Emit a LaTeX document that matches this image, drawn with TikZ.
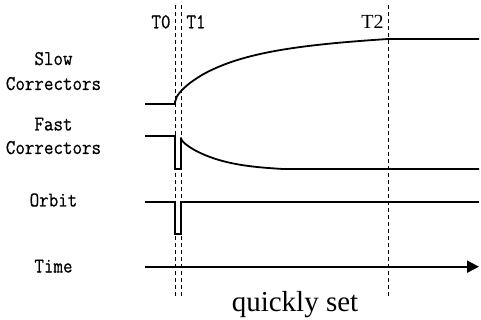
\documentclass[tikz,border=0pt]{standalone}
\usepackage{fontspec}
\setmainfont{Liberation Serif}
\newfontfamily\lblfont[FakeStretch=0.88,FakeBold=0.6]{Latin Modern Mono}
\usetikzlibrary{arrows.meta}
\begin{document}
\begin{tikzpicture}[x=1pt,y=-1pt,
  sig/.style={line width=1.8pt, line join=miter},
  guide/.style={line width=0.9pt, dash pattern=on 4pt off 3pt},
  lbl/.style={font=\lblfont\fontsize{21}{21}\selectfont, inner sep=0pt, anchor=base},
  serifl/.style={font=\fontsize{20}{20}\selectfont, inner sep=0pt, anchor=base}]
\useasboundingbox (0,0) rectangle (481,320);
% labels
\node[lbl] (slow1) at (53.5,65) {Slow};
\node[lbl] (slow2) at (53.5,90) {Correctors};
\node[lbl] (fast1) at (53.5,130.5) {Fast};
\node[lbl] (fast2) at (53.5,154) {Correctors};
\node[lbl] (orbit) at (53.5,206.5) {Orbit};
\node[lbl] (time) at (53.5,272.5) {Time};
\node[lbl] (t0) at (161,28.3) {T0};
\node[lbl] (t1) at (196,28.3) {T1};
\node[serifl] (t2) at (372.5,28.3) {T2};
\node[font=\fontsize{29}{29}\selectfont, inner sep=0pt, anchor=base] (qs) at (295,311.5) {quickly set};
% guide coordinates
\coordinate (g0a) at (175,5);   \coordinate (g0b) at (175,297);
\coordinate (g1a) at (181,5);   \coordinate (g1b) at (181,297);
\coordinate (g2a) at (388,5);   \coordinate (g2b) at (388,297);
\draw[guide] (g0a) -- (g0b);
\draw[guide] (g1a) -- (g1b);
\draw[guide] (g2a) -- (g2b);
% slow correctors
\draw[sig] (145,104) -- (175,104) -- plot[domain=0.0005:1,samples=120]
  ({175+213*\x},{104-65*(0.5*(\x)^0.35+0.5*(1-exp(-4*\x))/0.98168)}) -- (479,39);
% fast correctors
\draw[sig] (145,136) -- (175,136) -- (175,169) -- (181,169) -- (181,137.5) -- plot[domain=0.001:1,samples=100]
  ({181+102*\x},{137.5+31.5*(0.5*(\x)^0.4+0.5*(1-(1-\x)^3))}) -- (479,169);
% orbit
\draw[sig] (145,201.7) -- (175,201.7) -- (175,234) -- (181,234) -- (181,201.7) -- (479,201.7);
% time
\coordinate (ta) at (145,266.7);
\coordinate (tb) at (479,266.7);
\draw[sig, -{Triangle[length=12pt,width=12pt]}] (ta) -- (tb);
\end{tikzpicture}
\end{document}
